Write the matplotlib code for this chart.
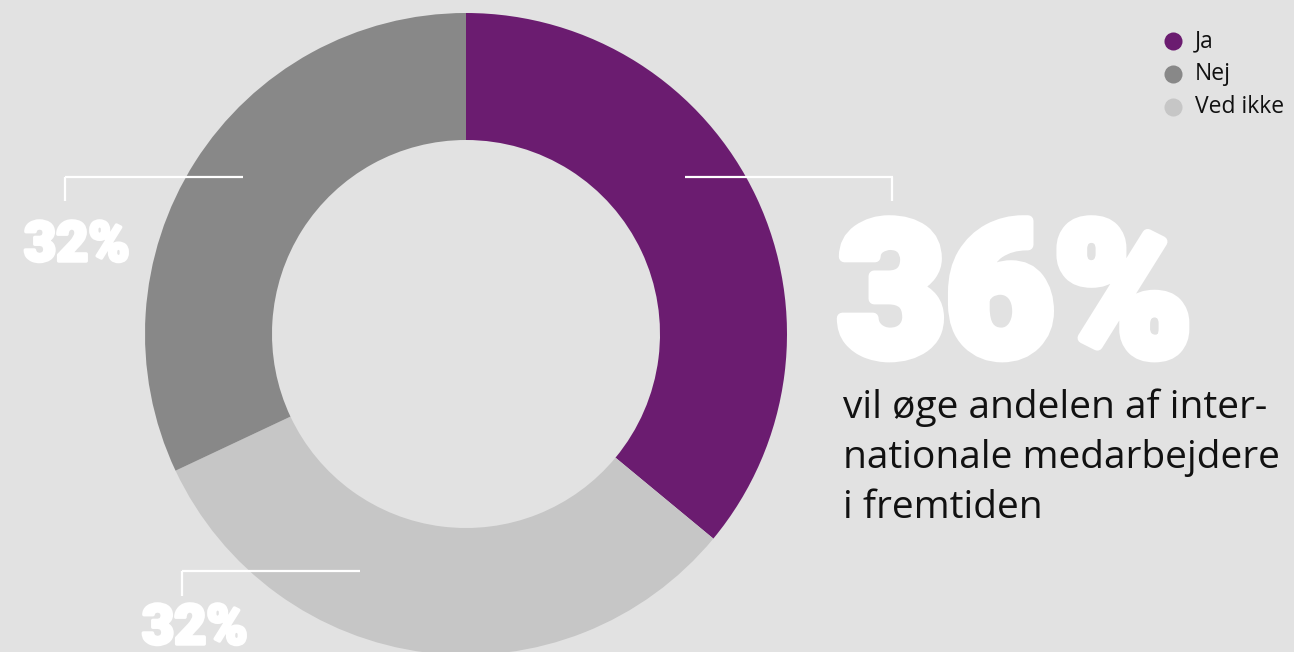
import matplotlib
matplotlib.use("Agg")
import matplotlib.pyplot as plt
import matplotlib.patheffects as pe

# survey answers, drawn clockwise from the top
categories = ["Ja", "Ved ikke", "Nej"]
shares = [36, 32, 32]
colors = ["#6b1c70", "#c6c6c6", "#888888"]
legend_order = ["Ja", "Nej", "Ved ikke"]
caption_lines = ["vil øge andelen af inter-", "nationale medarbejdere", "i fremtiden"]

bg = "#e2e2e2"
W, H = 1294, 652

fig = plt.figure(figsize=(W / 100, H / 100), dpi=100, facecolor=bg)
ax = fig.add_axes([0, 0, 1, 1])
ax.set_facecolor(bg)

cx, cy, r_out, r_in = 466, H - 334, 321, 194
ax.pie(shares, colors=colors, startangle=90, counterclock=False,
       center=(cx, cy), radius=r_out, frame=True,
       wedgeprops=dict(width=r_out - r_in, linewidth=0))
ax.set_xlim(0, W)
ax.set_ylim(0, H)
ax.set_aspect("equal")
ax.axis("off")

big_font = ["Roboto", "DejaVu Sans"]
body_font = ["Open Sans", "DejaVu Sans"]
share = dict(zip(categories, shares))
col = dict(zip(categories, colors))

# leader lines (white brackets)
def bracket(x0, x1, y, xdrop, ydrop):
    ax.plot([x0, x1], [H - y, H - y], color="white", lw=1.6, solid_capstyle="butt")
    ax.plot([xdrop, xdrop], [H - y, H - ydrop], color="white", lw=1.6, solid_capstyle="butt")

bracket(685, 893, 177, 892, 201)
bracket(65, 243, 177, 65, 201)
bracket(182, 360, 571, 182, 596)

def big_label(x, y, txt, size, stroke):
    ax.text(x, H - y, txt, color="white", fontsize=size, fontweight="black",
            family=big_font, ha="left", va="baseline",
            path_effects=[pe.withStroke(linewidth=stroke, foreground="white")])

big_label(838, 355, f"{share['Ja']}%", 134, 8)
big_label(24, 261, f"{share['Nej']}%", 40, 2.5)
big_label(142, 644, f"{share['Ved ikke']}%", 40, 2.5)

for i, line in enumerate(caption_lines):
    ax.text(843, H - (418 + 50 * i), line, color="#111111", fontsize=28,
            family=body_font, ha="left", va="baseline")

# legend
for i, name in enumerate(legend_order):
    y = H - (41 + 33 * i)
    ax.plot([1173], [y], marker="o", markersize=13, markeredgewidth=0,
            color=col[name], linestyle="none")
    ax.text(1195, y, name, color="#111111", fontsize=16.5, family=body_font,
            ha="left", va="center")

fig.savefig("out.png", dpi=100, facecolor=bg)
